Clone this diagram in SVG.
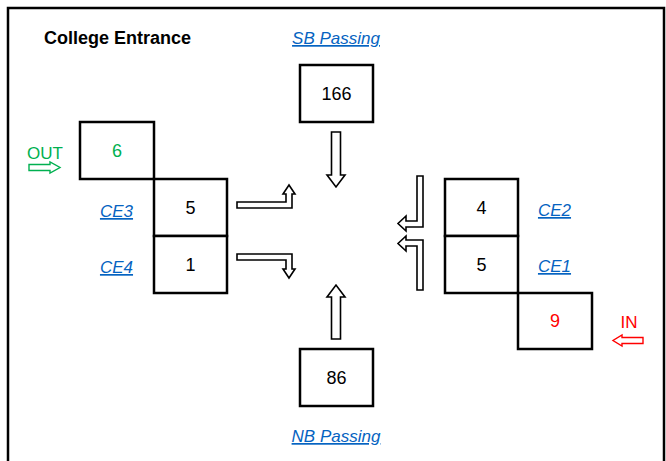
<svg xmlns="http://www.w3.org/2000/svg" width="666" height="461" viewBox="0 0 666 461">
<style>
.box{fill:#fff;stroke:#000;stroke-width:2.5}
.num{font-family:"Liberation Sans",Arial,sans-serif;font-size:18px;text-anchor:middle;fill:#000}
.lnk{font-family:"Liberation Sans",Arial,sans-serif;font-size:17px;font-style:italic;fill:#0563C1;text-decoration:underline;text-anchor:middle}
.blk{fill:#fff;stroke:#000;stroke-width:1.6;stroke-linejoin:miter}
</style>
<rect x="0" y="0" width="666" height="461" fill="#fff"/>
<path d="M8,461 V8 H664 V461" fill="none" stroke="#000" stroke-width="2.5"/>
<text x="44" y="44" font-family="Liberation Sans,Arial,sans-serif" font-size="18" font-weight="bold" fill="#000">College Entrance</text>

<g id="sb">
<text class="lnk" x="336" y="44">SB Passing</text>
<rect class="box" x="300" y="65" width="73" height="57"/>
<text class="num" x="336.5" y="100">166</text>
</g>
<g id="nb">
<rect class="box" x="300" y="349" width="73" height="57"/>
<text class="num" x="336.5" y="384">86</text>
<text class="lnk" x="336" y="442">NB Passing</text>
</g>
<g id="out">
<text x="45" y="159" font-family="Liberation Sans,Arial,sans-serif" font-size="17" fill="#00B050" text-anchor="middle">OUT</text>
<polygon points="29,164.5 50,164.5 50,162 60,167.5 50,173 50,170.5 29,170.5" fill="#fff" stroke="#00B050" stroke-width="1.4"/>
<rect class="box" x="80" y="122" width="74" height="57"/>
<text class="num" x="117" y="157" style="fill:#00B050">6</text>
</g>
<g id="ce3">
<text class="lnk" x="116.5" y="217">CE3</text>
<rect class="box" x="154" y="179" width="73" height="57"/>
<text class="num" x="190.5" y="214">5</text>
</g>
<g id="ce4">
<text class="lnk" x="116.5" y="273">CE4</text>
<rect class="box" x="154" y="236" width="73" height="57"/>
<text class="num" x="190.5" y="271">1</text>
</g>
<g id="ce2">
<rect class="box" x="445" y="179" width="73" height="57"/>
<text class="num" x="481.5" y="214">4</text>
<text class="lnk" x="554.5" y="216">CE2</text>
</g>
<g id="ce1">
<rect class="box" x="445" y="236" width="73" height="57"/>
<text class="num" x="481.5" y="271">5</text>
<text class="lnk" x="554.5" y="272">CE1</text>
</g>
<g id="in">
<rect class="box" x="518" y="293" width="74" height="56"/>
<text class="num" x="555" y="327" style="fill:#FF0000">9</text>
<text x="629" y="328" font-family="Liberation Sans,Arial,sans-serif" font-size="17" fill="#FF0000" text-anchor="middle">IN</text>
<polygon points="643,337.5 622,337.5 622,335 613,340.5 622,346 622,343.5 643,343.5" fill="#fff" stroke="#FF0000" stroke-width="1.4"/>
</g>

<g id="connectors">
<polygon class="blk" points="331.5,132 340.5,132 340.5,175 345,175 336,187 327,175 331.5,175"/>
<polygon class="blk" points="331.5,339 340.5,339 340.5,297 345,297 336,285 327,297 331.5,297"/>
<polygon class="blk" points="237,202 286,202 286,194 283,194 289,185 295,194 292,194 292,208 237,208"/>
<polygon class="blk" points="237,254 292,254 292,269 295,269 289,278 283,269 286,269 286,260 237,260"/>
<polygon class="blk" points="417,176 423,176 423,227 406,227 406,231 398,223.5 406,216 406,221 417,221"/>
<polygon class="blk" points="417,290 423,290 423,240 406,240 406,236 398,243.5 406,251 406,246 417,246"/>
</g>
</svg>
